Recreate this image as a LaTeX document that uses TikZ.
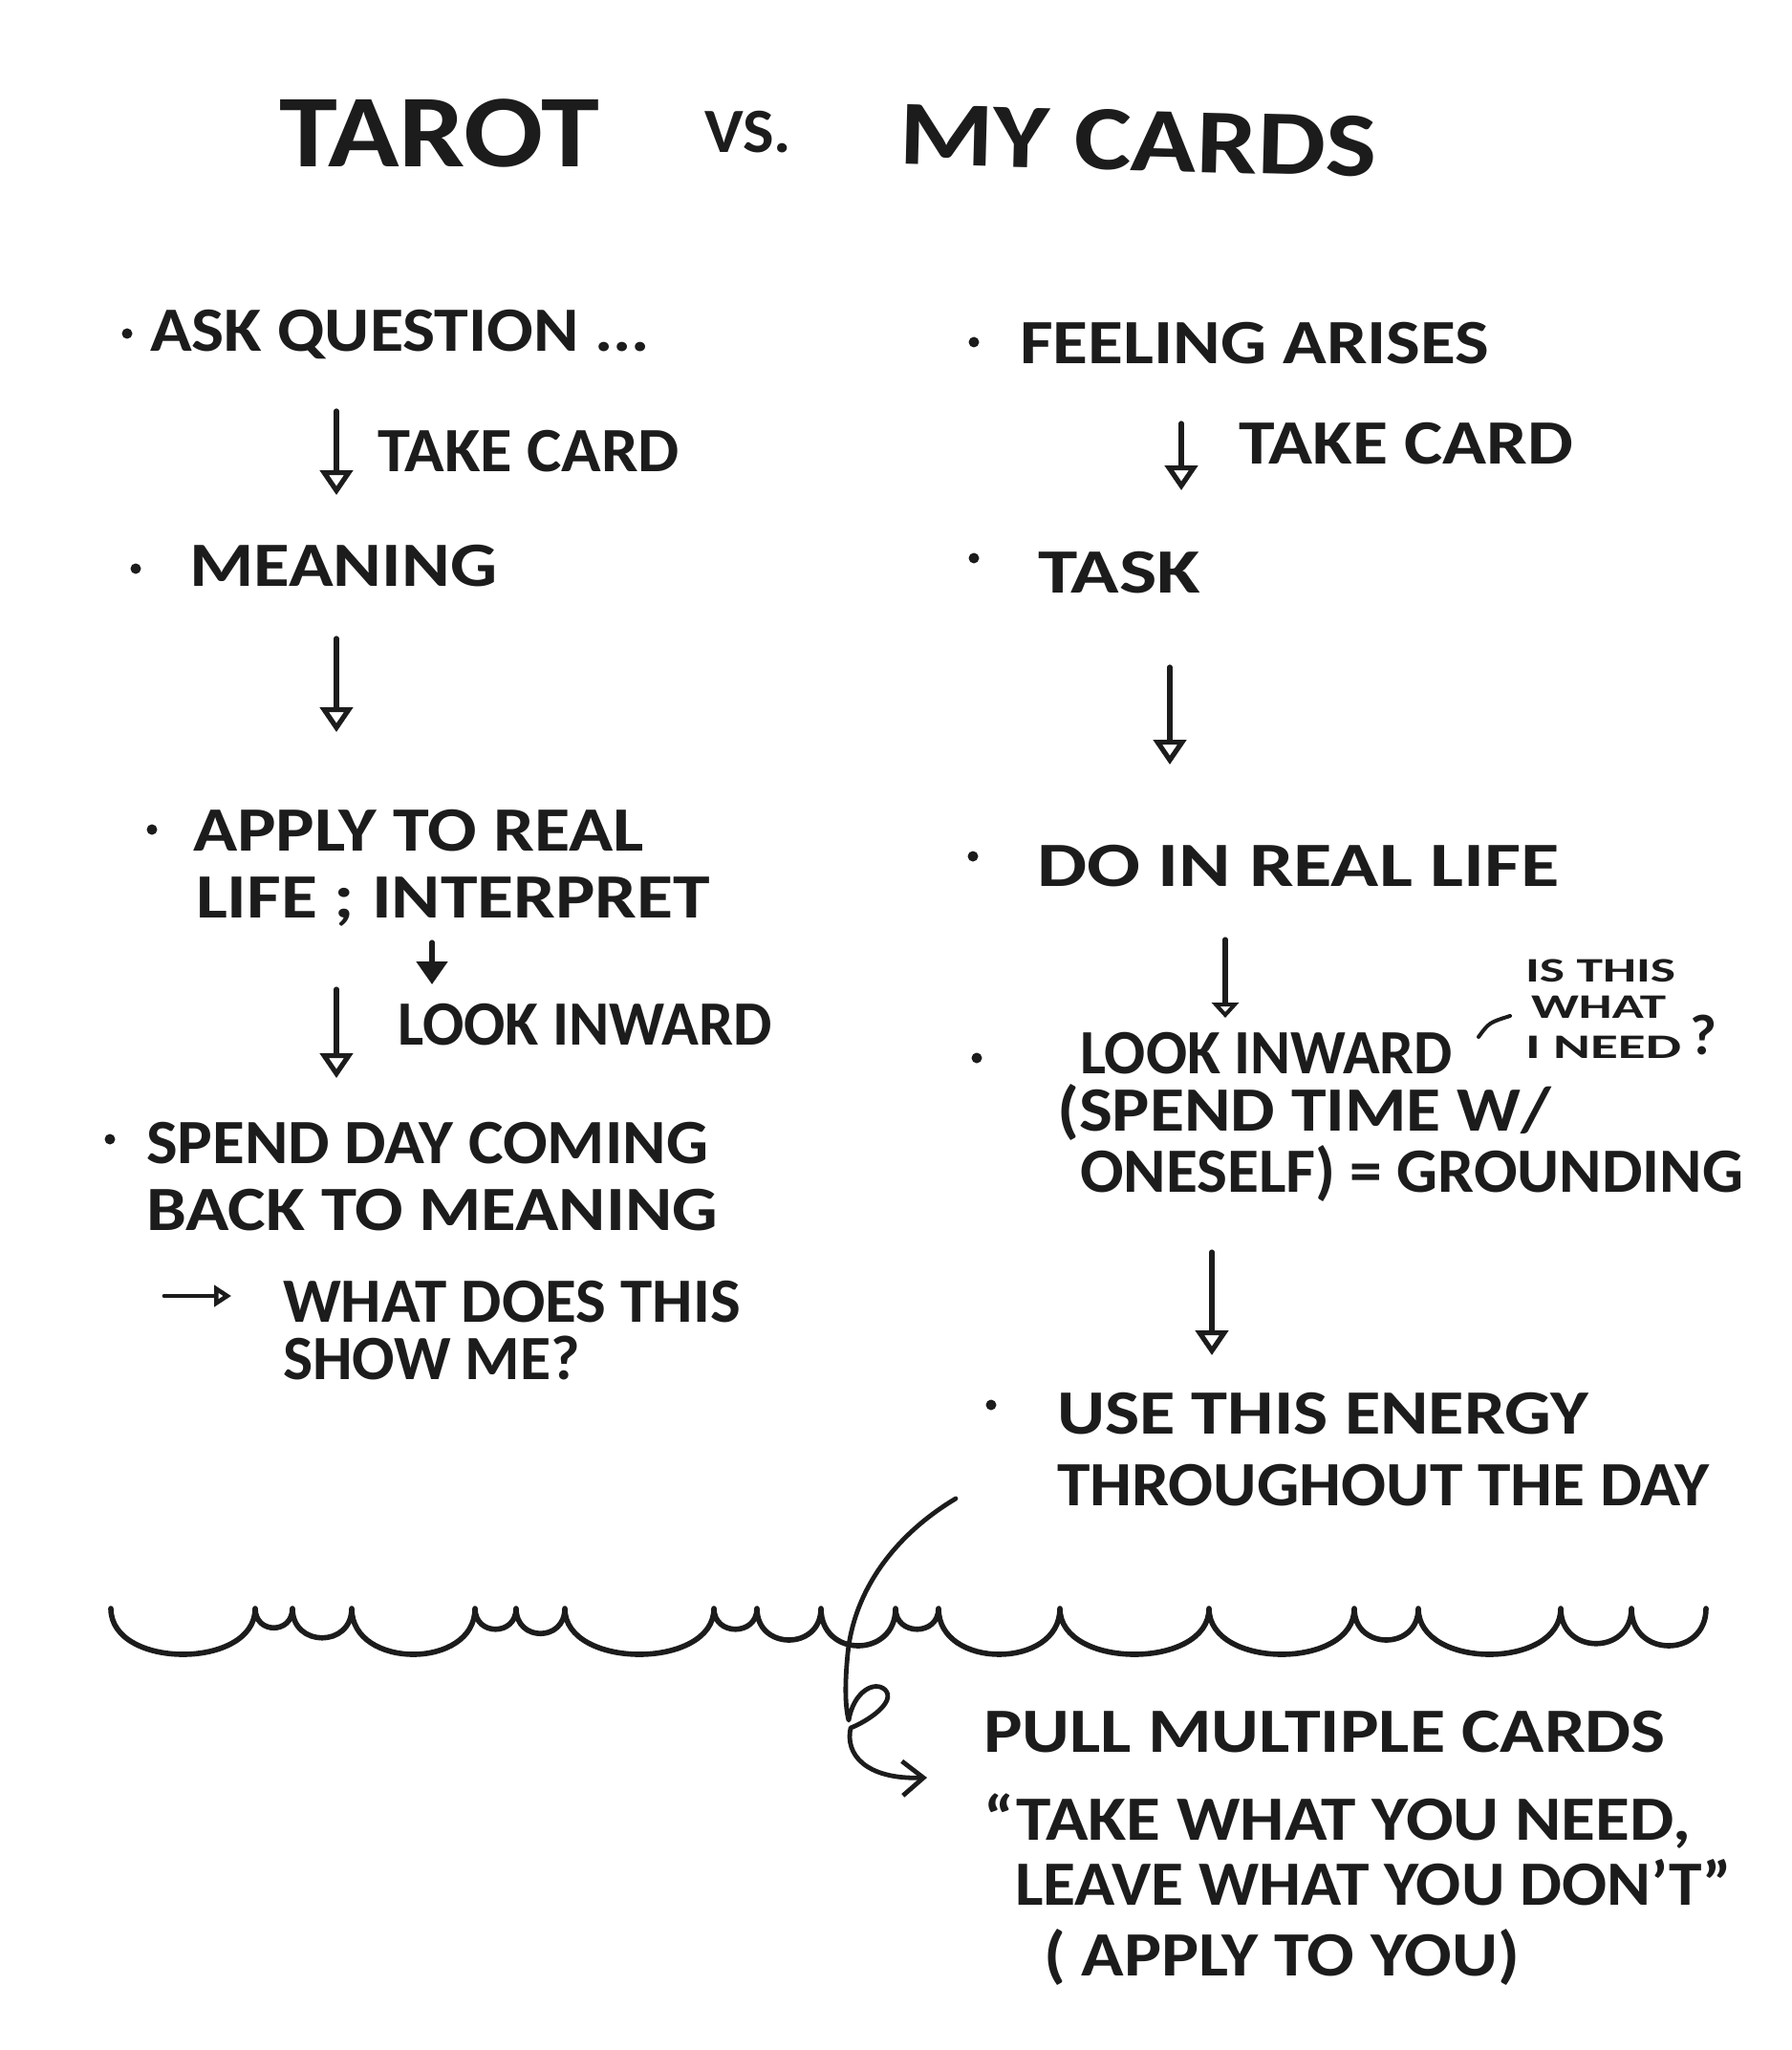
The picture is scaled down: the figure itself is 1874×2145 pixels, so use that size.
\documentclass[tikz,border=0pt]{standalone}
\usepackage{fontspec}
\setmainfont{Carlito}
\usepackage{graphicx}
\usetikzlibrary{arrows.meta}
\definecolor{ink}{HTML}{1C1C1C}
\newlength\upx \setlength\upx{0.5pt}
\newcommand\fitw[2]{\resizebox{#1\upx}{\height}{#2}}
\begin{document}
\begin{tikzpicture}[x=0.5pt,y=-0.5pt,
 txt/.style={anchor=base west,inner sep=0pt,outer sep=0pt,text=ink,font=\bfseries\fontsize{33}{40}\selectfont},
 smalltxt/.style={txt,font=\bfseries\fontsize{18}{22}\selectfont},
 ttl/.style={txt,font=\bfseries\fontsize{54}{60}\selectfont},
 dot/.style={circle,fill=ink,inner sep=0pt,minimum size=5.5pt},
 flow/.style={draw=ink,line width=2.6pt,line cap=round,line join=round,-{Triangle[open,length=13pt,width=17pt]}},
 flowsm/.style={draw=ink,line width=2.6pt,line cap=round,line join=round,-{Triangle[open,length=8pt,width=14pt]}},
 flowfill/.style={draw=ink,line width=2.6pt,line cap=round,line join=round,-{Triangle[length=12pt,width=16pt]}},
 wave/.style={draw=ink,line width=2.8pt,line cap=round,line join=round},
 hand/.style={draw=ink,line width=2.4pt,line cap=round,line join=round}]
\useasboundingbox (0,0) rectangle (1874,2145);
\fill[white] (0,0) rectangle (1874,2145);

% ---- title
\node[ttl] (tarot) at (292,175) {\fitw{335}{TAROT}};
\node[txt] (vs) at (737,160) {\fitw{91}{VS.}};
\node[ttl,font=\bfseries\fontsize{48}{54}\selectfont,rotate=-1.5] (mycards) at (940,172) {\fitw{500}{MY CARDS}};

% ---- left column
\node[dot] (d1) at (133,349) {};
\node[txt] (ask) at (157,368) {\fitw{523}{ASK QUESTION ...}};
\coordinate (a1s) at (352,430); \coordinate (a1e) at (352,518);
\draw[flow] (a1s) -- (a1e);
\node[txt] (take1) at (395,493) {\fitw{316}{TAKE CARD}};

\node[dot] (d2) at (142,595) {};
\node[txt] (meaning) at (198,613) {\fitw{322}{MEANING}};
\coordinate (a2s) at (352,668); \coordinate (a2e) at (352,766);
\draw[flow] (a2s) -- (a2e);

\node[dot] (d3) at (159,868) {};
\node[txt] (apply1) at (202,890) {\fitw{472}{APPLY TO REAL}};
\node[txt] (apply2) at (205,960) {\fitw{538}{LIFE ; INTERPRET}};
\coordinate (a3s) at (452,986); \coordinate (a3e) at (452,1030);
\draw[flowfill] (a3s) -- (a3e);
\coordinate (a4s) at (352,1035); \coordinate (a4e) at (352,1128);
\draw[flow] (a4s) -- (a4e);
\node[txt] (look1) at (416,1093) {\fitw{392}{LOOK INWARD}};

\node[dot] (d4) at (115,1192) {};
\node[txt] (spend1) at (153,1217) {\fitw{588}{SPEND DAY COMING}};
\node[txt] (spend2) at (153,1287) {\fitw{598}{BACK TO MEANING}};
\coordinate (a5s) at (172,1356); \coordinate (a5e) at (242,1356);
\draw[hand,-{Triangle[open,length=9pt,width=11pt]}] (a5s) -- (a5e);
\node[txt] (what1) at (296,1383) {\fitw{479}{WHAT DOES THIS}};
\node[txt] (what2) at (296,1443) {\fitw{311}{SHOW ME?}};

% ---- right column
\node[dot] (d5) at (1019,358) {};
\node[txt] (feel) at (1067,380) {\fitw{491}{FEELING ARISES}};
\coordinate (b1s) at (1236,443); \coordinate (b1e) at (1236,513);
\draw[flow] (b1s) -- (b1e);
\node[txt] (take2) at (1296,485) {\fitw{350}{TAKE CARD}};

\node[dot] (d6) at (1019,584) {};
\node[txt] (task) at (1086,620) {\fitw{170}{TASK}};
\coordinate (b2s) at (1224,698); \coordinate (b2e) at (1224,800);
\draw[flow] (b2s) -- (b2e);

\node[dot] (d7) at (1018,896) {};
\node[txt] (do) at (1085,927) {\fitw{547}{DO IN REAL LIFE}};
\coordinate (b3s) at (1282,983); \coordinate (b3e) at (1282,1065);
\draw[flowsm] (b3s) -- (b3e);

\node[dot] (d8) at (1022,1107) {};
\node[txt] (look2) at (1130,1123) {\fitw{390}{LOOK INWARD}};
\coordinate (tk1) at (1547,1085); \coordinate (tk2) at (1580,1063);
\draw[hand,line width=2pt] (tk1) .. controls (1558,1070) .. (tk2);
\node[smalltxt] (isthis) at (1596,1027) {\fitw{157}{IS THIS}};
\node[smalltxt] (whatq) at (1602,1065) {\fitw{141}{WHAT}};
\node[smalltxt] (ineed) at (1596,1107) {\fitw{163}{I NEED}};
\node[txt,font=\bfseries\fontsize{30}{34}\selectfont] (qm) at (1768,1103) {?};
\node[txt] (spendt) at (1106,1183) {\fitw{517}{(SPEND TIME W/}};
\node[txt] (ones) at (1130,1247) {\fitw{694}{ONESELF) = GROUNDING}};
\coordinate (b4s) at (1268,1310); \coordinate (b4e) at (1268,1418);
\draw[flow] (b4s) -- (b4e);

\node[dot] (d9) at (1037,1470) {};
\node[txt] (use) at (1106,1500) {\fitw{556}{USE THIS ENERGY}};
\node[txt] (thr) at (1106,1575) {\fitw{683}{THROUGHOUT THE DAY}};

% ---- wavy divider
\draw[wave] (116,1683)
 .. controls (116,1747) and (267,1747) .. (267,1683)
 .. controls (267,1710) and (306,1710) .. (306,1683)
 .. controls (306,1724) and (368,1724) .. (368,1683)
 .. controls (368,1747) and (497,1747) .. (497,1683)
 .. controls (497,1712) and (540,1712) .. (540,1683)
 .. controls (540,1718) and (591,1718) .. (591,1683)
 .. controls (591,1747) and (747,1747) .. (747,1683)
 .. controls (747,1712) and (792,1712) .. (792,1683)
 .. controls (792,1727) and (859,1727) .. (859,1683)
 .. controls (859,1735) and (937,1735) .. (937,1683)
 .. controls (937,1712) and (982,1712) .. (982,1683)
 .. controls (982,1747) and (1109,1747) .. (1109,1683)
 .. controls (1109,1747) and (1265,1747) .. (1265,1683)
 .. controls (1265,1747) and (1417,1747) .. (1417,1683)
 .. controls (1417,1727) and (1484,1727) .. (1484,1683)
 .. controls (1484,1747) and (1633,1747) .. (1633,1683)
 .. controls (1633,1732) and (1707,1732) .. (1707,1683)
 .. controls (1707,1735) and (1785,1735) .. (1785,1683);

% ---- curved connector
\coordinate (cs) at (1000,1568);
\coordinate (ce) at (970,1860);
\draw[hand,-{Straight Barb[length=11pt,width=18pt]}] (cs)
 .. controls (930,1610) and (893,1670) .. (887,1730)
 .. controls (884,1760) and (884,1785) .. (888,1800)
 .. controls (893,1770) and (915,1758) .. (926,1768)
 .. controls (938,1780) and (910,1800) .. (890,1808)
 .. controls (884,1835) and (905,1862) .. (ce);

% ---- bottom text
\node[txt] (pull) at (1029,1833) {\fitw{714}{PULL MULTIPLE CARDS}};
\node[txt] (quote1) at (1029,1925) {\fitw{740}{``TAKE WHAT YOU NEED,}};
\node[txt] (quote2) at (1062,1993) {\fitw{750}{LEAVE WHAT YOU DON'T''}};
\node[txt] (applyyou) at (1092,2067) {\fitw{498}{( APPLY TO YOU)}};
\end{tikzpicture}
\end{document}
